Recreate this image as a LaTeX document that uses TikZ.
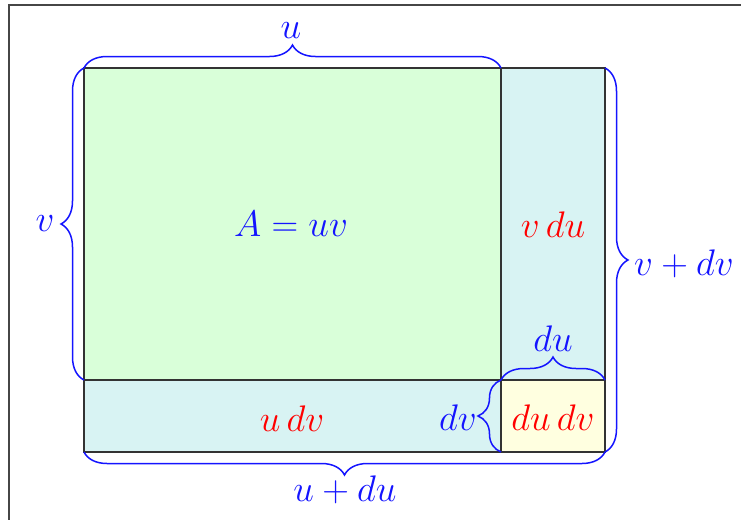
\documentclass[tikz,border=0pt]{standalone}
\usetikzlibrary{decorations.pathreplacing}
\definecolor{bgreen}{RGB}{217,255,217}
\definecolor{bcyan}{RGB}{216,243,243}
\definecolor{byellow}{RGB}{255,255,224}
\definecolor{bblue}{RGB}{20,20,255}
\definecolor{frame}{RGB}{70,70,70}
\newcommand{\mylbl}[1]{\scalebox{1.07}{$#1$}}
\begin{document}
\begin{tikzpicture}[x=0.5pt,y=-0.5pt,
  region/.style={draw=black!80,line width=0.65pt},
  bracer/.style={draw=bblue,line width=0.75pt,decorate,decoration={brace,amplitude=11.5pt}},
  lab/.style={font=\fontsize{17}{20}\selectfont,inner sep=0pt},
  bluelab/.style={lab,text=bblue},
  redlab/.style={lab,text=red}]
\useasboundingbox (0,0) rectangle (741,520);
\draw[frame,line width=0.8pt] (9,520) -- (9,5) -- (741,5);
% corners
\coordinate (TL) at (84,68);
\coordinate (TM) at (501,68);
\coordinate (TR) at (605,68);
\coordinate (ML) at (84,380);
\coordinate (MM) at (501,380);
\coordinate (MR) at (605,380);
\coordinate (BL) at (84,452);
\coordinate (BM) at (501,452);
\coordinate (BR) at (605,452);
% regions
\path[region,fill=bgreen] (TL) rectangle (MM);
\path[region,fill=bcyan] (TM) rectangle (MR);
\path[region,fill=bcyan] (ML) rectangle (BM);
\path[region,fill=byellow] (MM) rectangle (BR);
% braces
\draw[bracer] (TL) -- (TM);
\draw[bracer] (ML) -- (TL);
\draw[bracer] (TR) -- (BR);
\draw[bracer] (BR) -- (BL);
\draw[bracer] (MM) -- (MR);
\draw[bracer] (BM) -- (MM);
% labels
\node[bluelab] (lu) at (291,31) {\mylbl{u}};
\node[bluelab] (lv) at (45,224) {\mylbl{v}};
\node[bluelab] (lA) at (291,224) {\mylbl{A=uv}};
\node[redlab] (lvdu) at (553,225) {\mylbl{v\,du}};
\node[bluelab] (lvdv) at (684,264) {\mylbl{v+dv}};
\node[bluelab] (ldu) at (553,339) {\mylbl{du}};
\node[redlab] (ludv) at (292,419) {\mylbl{u\,dv}};
\node[bluelab] (ldv) at (458,418) {\mylbl{dv}};
\node[redlab] (ldudv) at (553,418) {\mylbl{du\,dv}};
\node[bluelab] (luddu) at (345,490) {\mylbl{u+du}};
\end{tikzpicture}
\end{document}
